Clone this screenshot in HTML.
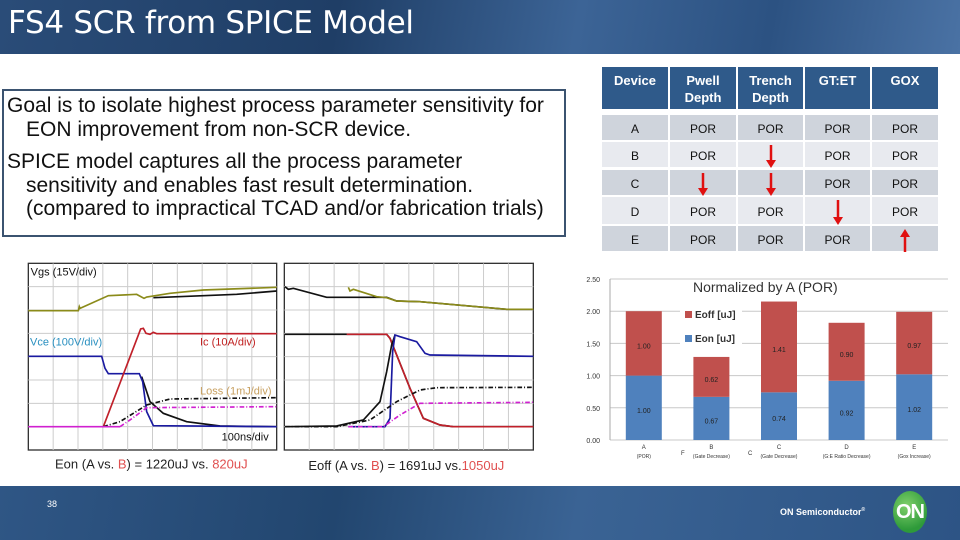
<!DOCTYPE html>
<html><head><meta charset="utf-8"><style>
body{margin:0;width:960px;height:540px;overflow:hidden;background:#fff;font-family:"Liberation Sans",sans-serif;position:relative}
.abs{position:absolute}
#hdr{left:0;top:0;width:960px;height:54px;background:linear-gradient(100deg,#2a4c78 0%,#1f3e66 35%,#3c6496 60%,#2c5282 80%,#4a72a4 100%)}
#title{left:8px;top:5px;color:#fff;font-size:31px;font-family:"DejaVu Sans","Liberation Sans",sans-serif;letter-spacing:-0.3px}
#box{left:2px;top:89px;width:560px;height:144px;border:2px solid #3b5370;font-size:21px;line-height:23.5px;color:#111;white-space:nowrap}
#box p{margin:0;padding-left:3px}
#box span{padding-left:19px}
#ftr{left:0;top:486px;width:960px;height:54px;background:linear-gradient(100deg,#2f5685 0%,#22466f 35%,#3a6394 60%,#2d5485 100%)}
.cell{position:absolute;text-align:center;font-size:12px;color:#111}
.hd{background:#2f5a8a;color:#fff;font-weight:bold;font-size:13px;line-height:17px;padding-top:5px;box-sizing:border-box}
</style></head><body>
<div id="hdr" class="abs"></div>
<div id="title" class="abs">FS4 SCR from SPICE Model</div>
<div id="box" class="abs">
<p style="margin-top:3px">Goal is to isolate highest process parameter sensitivity for<br><span>EON improvement from non-SCR device.</span></p>
<p style="margin-top:9px">SPICE model captures all the process parameter<br><span>sensitivity and enables fast result determination.</span><br><span>(compared to impractical TCAD and/or fabrication trials)</span></p>
</div>
<div id="tbl"></div>

<svg class="abs" style="left:20px;top:255px" width="530" height="220" viewBox="0 0 1590 660">
<g fill="#fff" stroke="#333" stroke-width="4"><rect x="25" y="25" width="745" height="560"/><rect x="793" y="25" width="747" height="560"/></g>
<g stroke="#ccc" stroke-width="3" id="grid"></g>
<g fill="none" stroke-width="5">
<polyline stroke="#111" points="400,128 550,122 650,118 770,108"/>
<polyline stroke="#8b8b1a" points="25,167 175,167 178,155 180,160 265,122 350,118 372,130 380,126 450,115 550,105 770,97"/>
<polyline stroke="#111" points="365,365 390,440 430,475 500,500 600,513 770,515"/>
<polyline stroke="#1a1aa0" points="25,304 245,304 255,340 265,356 358,356 368,380 380,470 400,512 770,515"/>
<polyline stroke="#c0202a" points="250,515 362,222 370,220 378,235 390,238 400,232 410,236 770,236"/>
<polyline stroke="#111" stroke-dasharray="14,6,3,6" points="250,515 300,500 380,450 450,432 770,428"/>
<polyline stroke="#d020d0" stroke-dasharray="14,6,3,6" points="300,515 330,495 380,458 770,455"/>
<polyline stroke="#d020d0" points="25,515 300,515"/>
<polyline stroke="#111" points="795,95 805,103 820,100 920,127 1100,127 1130,138 1200,140 1460,163 1540,163"/>
<polyline stroke="#8b8b1a" points="985,97 990,108 1000,103 1070,125 1100,128 1130,138 1200,140 1460,163 1540,163"/>
<polyline stroke="#111" points="795,238 1100,238 1110,250 1170,400 1210,490 1260,510 1300,515 1540,515"/>
<polyline stroke="#c0202a" points="980,238 1100,238 1110,250 1170,400 1210,490 1260,510 1300,515 1540,515"/>
<polyline stroke="#111" points="795,515 950,513 1030,495 1080,440 1100,350 1115,270 1125,240"/>
<polyline stroke="#1a1aa0" points="985,515 1095,515 1110,490 1118,290 1125,240 1140,245 1190,260 1215,295 1230,300 1540,304"/>
<polyline stroke="#111" stroke-dasharray="14,6,3,6" points="795,515 950,515 1050,495 1130,440 1200,405 1250,398 1540,397"/>
<polyline stroke="#d020d0" stroke-dasharray="14,6,3,6" points="985,515 1090,515 1140,480 1200,445 1540,442"/>
</g>
<g font-size="33" font-family="Liberation Sans,sans-serif">
<text x="32" y="62" fill="#111">Vgs (15V/div)</text>
<text x="30" y="272" fill="#2a90c0">Vce (100V/div)</text>
<text x="540" y="272" fill="#c02020">Ic (10A/div)</text>
<text x="540" y="418" fill="#c8a060">Loss (1mJ/div)</text>
<text x="605" y="556" fill="#111">100ns/div</text>
<text x="105" y="640" font-size="39" fill="#222">Eon (A vs. <tspan fill="#e05050">B</tspan>) = 1220uJ vs. <tspan fill="#e05050">820uJ</tspan></text>
<text x="865" y="645" font-size="39" fill="#222">Eoff (A vs. <tspan fill="#e05050">B</tspan>) = 1691uJ vs.<tspan fill="#e05050">1050uJ</tspan></text>
</g>
</svg>

<svg class="abs" id="bar" style="left:0;top:0" width="960" height="540"></svg>

<div id="ftr" class="abs"></div>
<div class="abs" style="left:47px;top:499px;color:#fff;font-size:9px">38</div>
<div class="abs" style="left:780px;top:507px;color:#fff;font-size:9px;font-weight:bold">ON Semiconductor<sup style="font-size:5px">®</sup></div>
<div class="abs" style="left:893px;top:491px;width:34px;height:42px;border-radius:50%;background:radial-gradient(circle at 40% 35%,#7fd06a,#2e9a3a 70%);color:#fff;font-weight:bold;font-size:20px;text-align:center;line-height:42px;letter-spacing:-1px">ON</div>

<script>
// table
var colX=[602,670,738,805,872],colW=[66,66,65,65,66];
var rowY=[115,142,170,197,226],rowH=[25,25,25,27,25];
var heads=["Device","Pwell<br>Depth","Trench<br>Depth","GT:ET","GOX"];
var rows=[["A","POR","POR","POR","POR"],["B","POR","dn","POR","POR"],["C","dn","dn","POR","POR"],["D","POR","POR","dn","POR"],["E","POR","POR","POR","up"]];
var tb=document.getElementById('tbl');
heads.forEach(function(h,c){var d=document.createElement('div');d.className='cell hd';d.style.cssText+='left:'+colX[c]+'px;top:67px;width:'+colW[c]+'px;height:42px';d.innerHTML=h;


tb.appendChild(d);});
rows.forEach(function(r,i){r.forEach(function(v,c){var d=document.createElement('div');d.className='cell';
d.style.cssText+='left:'+colX[c]+'px;top:'+rowY[i]+'px;width:'+colW[c]+'px;height:'+rowH[i]+'px;line-height:'+(rowH[i]+4)+'px;background:'+(i%2?'#e8eaef':'#cfd4dc');
if(v==='dn'||v==='up'){var up=v==='up';d.innerHTML='<svg width="12" height="'+rowH[i]+'" style="margin-top:2px"><line x1="6" x2="6" y1="'+(up?8:1)+'" y2="'+(up?rowH[i]-1:rowH[i]-8)+'" stroke="#e01010" stroke-width="2.5"/><polygon fill="#e01010" points="'+(up?'1,9 11,9 6,1':'1,'+(rowH[i]-9)+' 11,'+(rowH[i]-9)+' 6,'+(rowH[i]-1))+'"/></svg>';d.style.lineHeight='0';}
else d.textContent=v;


tb.appendChild(d);});});

// grid for scopes
var g=document.getElementById('grid');
[[25,770],[793,1540]].forEach(function(p){
 var w=(p[1]-p[0])/10;
 for(var i=1;i<10;i++){var l=document.createElementNS('http://www.w3.org/2000/svg','line');l.setAttribute('x1',p[0]+w*i);l.setAttribute('x2',p[0]+w*i);l.setAttribute('y1',25);l.setAttribute('y2',585);g.appendChild(l);}
 for(var j=1;j<8;j++){var l2=document.createElementNS('http://www.w3.org/2000/svg','line');l2.setAttribute('x1',p[0]);l2.setAttribute('x2',p[1]);l2.setAttribute('y1',25+70*j);l2.setAttribute('y2',25+70*j);g.appendChild(l2);}
});

var categories=["A","B","C","D","E"];
var subLabels=["(POR)","(Gate Decrease)","(Gate Decrease)","(G:E Ratio Decrease)","(Gox Increase)"];
var eonValues=[1.00,0.67,0.74,0.92,1.02];
var eoffValues=[1.00,0.62,1.41,0.90,0.97];
var yTicks=[0,0.5,1,1.5,2,2.5];
var yTickLabels=["0.00","0.50","1.00","1.50","2.00","2.50"];

var NS='http://www.w3.org/2000/svg',svg=document.getElementById('bar');
var X0=610,X1=948,Y0=440,Y1=279,YMAX=2.5;
function y(v){return Y0-(v/YMAX)*(Y0-Y1);}
function xc(i){return X0+(X1-X0)/categories.length*(i+0.5);}
function mk(t,a,txt){var e=document.createElementNS(NS,t);for(var k in a)e.setAttribute(k,a[k]);if(txt!=null)e.textContent=txt;svg.appendChild(e);return e;}
yTicks.forEach(function(v,i){
 var l=mk('line',{x1:X0,x2:X1,y1:y(v),y2:y(v),stroke:'#c8c8c8','stroke-width':1});
 
 
 var t=mk('text',{x:600,y:y(v)+3,'font-size':7,'text-anchor':'end',fill:'#333'},yTickLabels[i]);
 
 
});
mk('line',{x1:X0,x2:X0,y1:Y1,y2:Y0,stroke:'#aaa'});
var bw=36;
categories.forEach(function(c,i){
 var cx=xc(i),ye=y(eonValues[i]),yt=y(eonValues[i]+eoffValues[i]);
 var b1=mk('rect',{x:cx-bw/2,y:ye,width:bw,height:Y0-ye,fill:'#4f81bd'});
 
 
 var b2=mk('rect',{x:cx-bw/2,y:yt,width:bw,height:ye-yt,fill:'#c0504d'});
 
 
 var t1=mk('text',{x:cx,y:(ye+Y0)/2+5,'font-size':7,'text-anchor':'middle',fill:'#222'},eonValues[i].toFixed(2));
 
 
 var t2=mk('text',{x:cx,y:(yt+ye)/2+5,'font-size':7,'text-anchor':'middle',fill:'#222'},eoffValues[i].toFixed(2));
 
 
 var c1=mk('text',{x:cx,y:449,'font-size':6,'text-anchor':'middle',fill:'#333'},c);
 
 
 var c2=mk('text',{x:cx,y:458,'font-size':5,'text-anchor':'middle',fill:'#333'},subLabels[i]);
 
 
});
mk('text',{x:681,y:455,'font-size':6,fill:'#333'},'F');
mk('text',{x:748,y:455,'font-size':6,fill:'#333'},'C');
var tt=mk('text',{x:693,y:292,'font-size':14,fill:'#333'},'Normalized by A (POR)');


mk('rect',{x:680,y:303,width:62,height:46,fill:'#fff'});
mk('rect',{x:685,y:311,width:7,height:7,fill:'#c0504d'});
mk('text',{x:695,y:318,'font-size':10,'font-weight':'bold',fill:'#333'},'Eoff [uJ]');
mk('rect',{x:685,y:335,width:7,height:7,fill:'#4f81bd'});
mk('text',{x:695,y:342,'font-size':10,'font-weight':'bold',fill:'#333'},'Eon [uJ]');
</script>
</body></html>
